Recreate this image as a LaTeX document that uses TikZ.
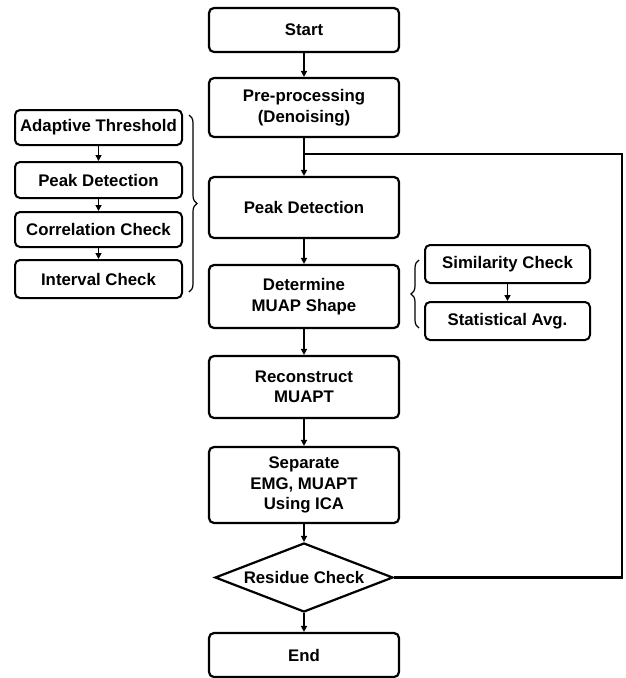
\documentclass[tikz,border=0pt]{standalone}
\usepackage{fontspec}
\setmainfont{Liberation Sans}
\usetikzlibrary{shapes.geometric,arrows.meta,decorations.pathreplacing}
\tikzstyle{every node}=[font=\bfseries\fontsize{16.8}{20.5}\selectfont, align=center]
\tikzstyle{stepbox}=[draw, line width=2.2pt, rounded corners=5pt, minimum width=190pt, inner sep=0pt]
\tikzstyle{subbox}=[draw, line width=2pt, rounded corners=5pt, minimum width=167pt, minimum height=36pt, inner sep=0pt]
\tikzset{flow/.style={line width=2pt, -{Triangle[length=6pt,width=6pt]}}}

\begin{document}
\begin{tikzpicture}[x=1pt, y=-1pt]
    \useasboundingbox (0,0) rectangle (626,678);
    % main column
    \node[stepbox, minimum height=44pt] (start) at (304,30) {Start};
    \node[stepbox, minimum height=59pt] (pre) at (304,107.5) {Pre-processing\\(Denoising)};
    \node[stepbox, minimum height=61pt] (peak) at (304,207.5) {Peak Detection};
    \node[stepbox, minimum height=63pt] (muap) at (304,296.5) {Determine\\MUAP Shape};
    \node[stepbox, minimum height=62pt] (recon) at (304,387) {Reconstruct\\MUAPT};
    \node[stepbox, minimum height=76pt] (sep) at (304,485) {Separate\\EMG, MUAPT\\Using ICA};
    \node[draw, diamond, aspect=2.58, line width=2.2pt, inner sep=0pt, minimum width=178pt, minimum height=69pt] (resid) at (304,577.5) {Residue Check};
    \node[stepbox, minimum height=44pt] (end) at (304,655) {End};
    % left column
    \node[subbox, minimum height=35pt] (adapt) at (98.5,127.5) {Adaptive Threshold};
    \node[subbox] (lpeak) at (98.5,180) {Peak Detection};
    \node[subbox, minimum height=35pt] (corr) at (98.5,229.5) {Correlation Check};
    \node[subbox, minimum height=38pt] (interval) at (98.5,279) {Interval Check};
    % right column
    \node[subbox, minimum width=165pt, minimum height=38pt] (simil) at (507.5,264) {Similarity Check};
    \node[subbox, minimum width=165pt, minimum height=38pt] (stat) at (507.5,321) {Statistical Avg.};

    \coordinate (junc) at (304,154);
    \coordinate (loop) at (622,154);
    \draw[flow] (start) -- (pre);
    \draw[flow] (pre) -- (peak);
    \draw[flow] (peak) -- (muap);
    \draw[flow] (muap) -- (recon);
    \draw[flow] (recon) -- (sep);
    \draw[flow] (sep) -- (resid);
    \draw[flow] (resid) -- (end);
    \draw[line width=2.6pt] (resid.east) -| (loop) -- (junc);
    \draw[flow, line width=1.5pt] (adapt) -- (lpeak);
    \draw[flow, line width=1.5pt] (lpeak) -- (corr);
    \draw[flow, line width=1.5pt] (corr) -- (interval);
    \draw[flow, line width=1.5pt] (simil) -- (stat);
    % braces
    \draw[line width=1.2pt, decorate, decoration={brace, amplitude=8pt}] (189,115) -- (189,292);
    \draw[line width=1.2pt, decorate, decoration={brace, amplitude=8pt}] (419,328) -- (419,260);
\end{tikzpicture}
\end{document}
